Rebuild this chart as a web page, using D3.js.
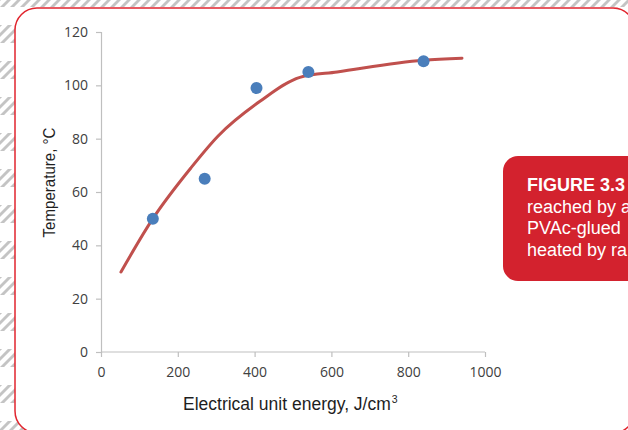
<!DOCTYPE html>
<html><head><meta charset="utf-8">
<script src="https://cdn.jsdelivr.net/npm/d3@7"></script>
<style>html,body{margin:0;padding:0;background:#fff;overflow:hidden}</style>
</head><body>
<script>
// ---- data ----
const pointEnergy = [135, 270, 405, 540, 840];
const pointTemp   = [50, 65, 99, 105, 109];
const curveEnergy = [52, 135, 234, 305, 414, 518, 615, 839, 940];
const curveTemp   = [30, 50, 69, 81, 94, 103, 105, 109.4, 110.2];
const xTicks = [0, 200, 400, 600, 800, 1000];
const yTicks = [0, 20, 40, 60, 80, 100, 120];
const xLabel = "Electrical unit energy, J/cm";
const yLabel = "Temperature, °C";
const captionLines = ["reached by a", "PVAc-glued", "heated by ra"];
const captionTitle = "FIGURE 3.3";

const W = 628, H = 430;
const svg = d3.select("body").append("svg").attr("width", W).attr("height", H);

// hatched background
const defs = svg.append("defs");
const pat = defs.append("pattern").attr("id","hatch").attr("patternUnits","userSpaceOnUse")
  .attr("width",10).attr("height",36).attr("y",-11);
const cp = defs.append("clipPath").attr("id","band");
cp.append("rect").attr("x",0).attr("y",0).attr("width",10).attr("height",18);
const g0 = pat.append("g").attr("clip-path","url(#band)");
for (let k=-1;k<6;k++){
  g0.append("line").attr("x1",-2).attr("y1",k*10+12).attr("x2",12).attr("y2",k*10-2)
    .attr("stroke","#c4c4c4").attr("stroke-width",3);
}
svg.append("rect").attr("width",W).attr("height",H).attr("fill","url(#hatch)");

// card
svg.append("rect").attr("x",15).attr("y",8).attr("width",620).attr("height",425).attr("rx",22)
  .attr("fill","#fff").attr("stroke","#e1262f").attr("stroke-width",1.5);

// scales
const x = d3.scaleLinear().domain([0,1000]).range([101,485]);
const y = d3.scaleLinear().domain([0,120]).range([352,32]);

const axisColor = "#bfbfbf";
const gx = svg.append("g").attr("transform","translate(0,352)")
  .call(d3.axisBottom(x).tickValues(xTicks).tickSize(5).tickPadding(10).tickFormat(d3.format("d")));
const gy = svg.append("g").attr("transform","translate(101,0)")
  .call(d3.axisLeft(y).tickValues(yTicks).tickSize(5).tickPadding(8).tickFormat(d3.format("d")));
[gx, gy].forEach(g => {
  g.select(".domain").attr("stroke",axisColor).attr("stroke-width",1.2);
  g.selectAll(".tick line").attr("stroke",axisColor).attr("stroke-width",1.2);
  g.selectAll(".tick text").attr("fill","#404040").style("font-family","'Open Sans', sans-serif").style("font-size","14px");
});
gx.select(".domain").attr("d","M101,0H485");

// axis titles
const font = "'Liberation Sans', Arial, sans-serif";
const xt = svg.append("text").attr("x",183).attr("y",410)
  .style("font-family",font).style("font-size","17.5px").attr("fill","#1e1e1e")
  .text(xLabel);
const xw = xt.node().getComputedTextLength();
svg.append("text").attr("x",183 + xw + 1).attr("y",403)
  .style("font-family",font).style("font-size","10.5px").attr("fill","#1e1e1e").text("3");

svg.append("text").attr("transform","translate(55,182.5) rotate(-90)").attr("text-anchor","middle")
  .style("font-family",font).style("font-size","16.5px").attr("fill","#1e1e1e")
  .attr("textLength",110).attr("lengthAdjust","spacingAndGlyphs")
  .text(yLabel);

// fitted curve
const curveData = curveEnergy.map((e,i)=>[e, curveTemp[i]]);
svg.append("path").datum(curveData)
  .attr("d", d3.line().x(d=>x(d[0])).y(d=>y(d[1])).curve(d3.curveMonotoneX))
  .attr("fill","none").attr("stroke","#c0504d").attr("stroke-width",3).attr("stroke-linecap","round");

// points
svg.append("g").selectAll("circle").data(pointEnergy.map((e,i)=>[e, pointTemp[i]])).join("circle")
  .attr("cx",d=>x(d[0])).attr("cy",d=>y(d[1])).attr("r",6).attr("fill","#4a7ebb");

// caption box
svg.append("rect").attr("x",503).attr("y",156).attr("width",160).attr("height",125).attr("rx",15)
  .attr("fill","#d3222e");
const cap = svg.append("text").attr("x",527).attr("y",191)
  .style("font-family",font).style("font-size","18px").attr("fill","#fff");
cap.append("tspan").attr("x",527).style("font-weight","bold").text(captionTitle);
captionLines.forEach(l => cap.append("tspan").attr("x",527).attr("dy",21.5).text(l));
</script>
</body></html>
